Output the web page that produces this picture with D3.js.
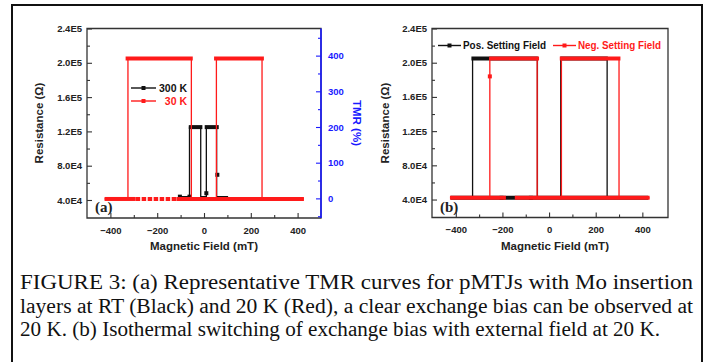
<!DOCTYPE html>
<html>
<head>
<meta charset="utf-8">
<script src="https://cdn.jsdelivr.net/npm/d3@7"></script>
<style>
  body { margin: 0; background: #fff; }
  svg { display: block; }
</style>
</head>
<body>
<div id="chart"></div>
<script>
// ---- tick values / labels ----
const resTicks = [40000, 80000, 120000, 160000, 200000, 240000]
const resTickLabels = ["4.0E4", "8.0E4", "1.2E5", "1.6E5", "2.0E5", "2.4E5"]
const fieldTicks = [-400, -200, 0, 200, 400]
const tmrTicks = [0, 100, 200, 300, 400]

// ---- panel (a) ----
// 300 K loop: path vertices [field mT, resistance ohm]
const rt300Path = [[-111, 43900], [-62, 43900], [-62, 125000], [-14, 125000], [-14, 43900],
  [10, 43900], [10, 125000], [54, 125000], [54, 43900], [103, 43900]]
// dense marker stretches [from, to, resistance]
const rt300Runs = [[-65, -7, 125000], [3, 63, 125000]]
const rt300Points = [[-103, 43900], [-62, 43900], [10, 47900], [57, 69400]]

// 30 K loop
const k30Path = [[-425, 41200], [-325, 41200], [-325, 205000], [-54, 205000], [-54, 41200],
  [53, 41200], [53, 205000], [248, 205000], [248, 41200], [427, 41200]]
const k30Runs = [[-335, -48, 205000], [43, 256, 205000], [-425, -292, 41200], [-118, 427, 41200]]
const k30DashRuns = [[-292, -118, 41200]]

// ---- panel (b) ----
const posPath = [[-422, 42000], [-328, 42000], [-328, 205000], [-50, 205000], [-50, 42000],
  [50, 42000], [50, 205000], [249, 205000], [249, 42000], [425, 42000]]
const posRuns = [[-333, -48, 205000], [48, 252, 205000], [-422, 425, 42000]]
const posPoints = [[-204, 42000], [-78, 42000]]

const negPath = [[-425, 42000], [-254, 42000], [-254, 205000], [-51, 205000], [-51, 42000],
  [53, 42000], [53, 205000], [300, 205000], [300, 42000], [431, 42000]]
const negRuns = [[-257, -43, 205000], [46, 306, 205000], [-425, -185, 42000], [-147, 431, 42000]]
const negPoints = [[-254, 184000]]

const caption = [
  "FIGURE 3: (a) Representative TMR curves for pMTJs with Mo insertion",
  "layers at RT (Black) and 20 K (Red), a clear exchange bias can be observed at",
  "20 K. (b) Isothermal switching of exchange bias with external field at 20 K."
]

const RED = "#ff1a1a"
const BLACK = "#111"
const BLUE = "#1a1aff"
const AXIS = "#333"

const svg = d3.select("#chart").append("svg")
  .attr("width", 713).attr("height", 362)
  .style("font-family", "'Liberation Sans', Arial, sans-serif")

svg.append("rect").attr("width", 713).attr("height", 362).attr("fill", "#fff")
// outer frame
svg.append("path")
  .attr("d", "M12,370 V5 H702 V370")
  .attr("fill", "none").attr("stroke", "#111").attr("stroke-width", 2)

function drawPanel(p) {
  const x = d3.scaleLinear().domain(p.xDomain).range([p.left, p.right])
  const y = d3.scaleLinear().domain([19000, 240000]).range([p.bottom, p.top])
  const g = svg.append("g")

  // series
  p.series.forEach(s => {
    const line = d3.line().x(d => x(d[0])).y(d => y(d[1]))
    g.append("path").attr("d", line(s.path))
      .attr("fill", "none").attr("stroke", s.color).attr("stroke-width", 1.3)
    g.selectAll(null).data(s.runs).join("line")
      .attr("x1", d => x(d[0])).attr("x2", d => x(d[1]))
      .attr("y1", d => y(d[2])).attr("y2", d => y(d[2]))
      .attr("stroke", s.color).attr("stroke-width", 4)
    g.selectAll(null).data(s.dashRuns || []).join("line")
      .attr("x1", d => x(d[0])).attr("x2", d => x(d[1]))
      .attr("y1", d => y(d[2])).attr("y2", d => y(d[2]))
      .attr("stroke", s.color).attr("stroke-width", 4).attr("stroke-dasharray", "4.5,1.5")
    g.selectAll(null).data(s.points || []).join("rect")
      .attr("x", d => x(d[0]) - 2).attr("y", d => y(d[1]) - 2)
      .attr("width", 4).attr("height", 4).attr("fill", s.color)
  })

  // frame
  g.append("path")
    .attr("d", `M${p.left},${p.top} H${p.right} V${p.bottom} H${p.left} Z`)
    .attr("fill", "none").attr("stroke", AXIS).attr("stroke-width", 1.3)

  // left axis
  const yAxis = d3.axisLeft(y).tickValues(resTicks)
    .tickFormat((d, i) => resTickLabels[i]).tickSize(-5).tickPadding(5)
  const ya = g.append("g").attr("transform", `translate(${p.left},0)`).call(yAxis)
  ya.select(".domain").remove()
  const yMinor = d3.axisLeft(y).tickValues([60000, 100000, 140000, 180000, 220000])
    .tickSize(-3).tickFormat("")
  const ym = g.append("g").attr("transform", `translate(${p.left},0)`).call(yMinor)
  ym.select(".domain").remove()

  // bottom axis
  const xAxis = d3.axisBottom(x).tickValues(fieldTicks).tickSize(-5).tickPadding(9)
  const xa = g.append("g").attr("transform", `translate(0,${p.bottom})`).call(xAxis)
  xa.select(".domain").remove()
  const xMinor = d3.axisBottom(x).tickValues([-300, -100, 100, 300]).tickSize(-3).tickFormat("")
  const xm = g.append("g").attr("transform", `translate(0,${p.bottom})`).call(xMinor)
  xm.select(".domain").remove()

  ;[ya, ym, xa, xm].forEach(a => {
    a.selectAll("line").attr("stroke", AXIS).attr("stroke-width", 1.1)
    a.selectAll("text").attr("fill", "#222").style("font-size", "9.5px")
      .style("font-weight", "bold").style("font-family", "'Liberation Sans', Arial, sans-serif")
  })

  // axis titles
  g.append("text")
    .attr("transform", `translate(${p.ytitleX},123) rotate(-90)`)
    .attr("text-anchor", "middle").attr("fill", "#222")
    .style("font-size", "11.5px").style("font-weight", "bold")
    .text("Resistance (\u03A9)")
  g.append("text")
    .attr("x", (p.left + p.right) / 2 + p.xtitleShift).attr("y", 250)
    .attr("text-anchor", "middle").attr("fill", "#222")
    .style("font-size", "11.5px").style("font-weight", "bold")
    .text("Magnetic Field (mT)")

  // panel tag
  g.append("text")
    .attr("x", p.left + 8).attr("y", 212)
    .attr("fill", "#222")
    .style("font-family", "'Liberation Serif', 'Times New Roman', serif")
    .style("font-size", "15px").style("font-weight", "bold")
    .text(p.tag)

  return { x, y, g }
}

// ---- panel (a) ----
drawPanel({
  left: 87, right: 321, top: 28.5, bottom: 218, xDomain: [-500, 500],
  ytitleX: 43, xtitleShift: 0, tag: "(a)",
  series: [
    { path: rt300Path, runs: rt300Runs, points: rt300Points, color: BLACK },
    { path: k30Path, runs: k30Runs, dashRuns: k30DashRuns, color: RED }
  ]
})

// TMR axis (blue, right side)
const tmr = d3.scaleLinear().domain([-55, 476]).range([218, 28.5])
const tAxis = d3.axisRight(tmr).tickValues(tmrTicks).tickSize(-5).tickPadding(7)
const ta = svg.append("g").attr("transform", "translate(321,0)").call(tAxis)
const tMinor = d3.axisRight(tmr).tickValues([-50, 50, 150, 250, 350, 450]).tickSize(-3).tickFormat("")
const tm = svg.append("g").attr("transform", "translate(321,0)").call(tMinor)
tm.select(".domain").remove()
ta.select(".domain").attr("stroke", BLUE).attr("stroke-width", 1.6)
  .attr("d", "M0,28.5V218")
;[ta, tm].forEach(a => {
  a.selectAll("line").attr("stroke", BLUE).attr("stroke-width", 1.1)
  a.selectAll("text").attr("fill", BLUE).style("font-size", "9.5px")
    .style("font-weight", "bold").style("font-family", "'Liberation Sans', Arial, sans-serif")
})
svg.append("text")
  .attr("transform", "translate(353,123) rotate(90)")
  .attr("text-anchor", "middle").attr("fill", BLUE)
  .style("font-size", "11.5px").style("font-weight", "bold")
  .text("TMR (%)")

// legend entries
function legendItem(x0, x1, yy, color, label, labelX, anchor, width) {
  svg.append("line").attr("x1", x0).attr("x2", x1).attr("y1", yy).attr("y2", yy)
    .attr("stroke", color).attr("stroke-width", 1.4)
  svg.append("rect").attr("x", (x0 + x1) / 2 - 2).attr("y", yy - 2)
    .attr("width", 4).attr("height", 4).attr("fill", color)
  const t = svg.append("text").attr("x", labelX).attr("y", yy + 3.5)
    .attr("text-anchor", anchor).attr("fill", color)
    .style("font-size", "10.5px").style("font-weight", "bold")
    .text(label)
  if (width) t.attr("textLength", width).attr("lengthAdjust", "spacingAndGlyphs")
}
legendItem(131, 156, 88, BLACK, "300 K", 187, "end")
legendItem(131, 156, 101, RED, "30 K", 187, "end")

// ---- panel (b) ----
drawPanel({
  left: 432, right: 668, top: 28.5, bottom: 217.5, xDomain: [-502, 510],
  ytitleX: 389, xtitleShift: 5, tag: "(b)",
  series: [
    { path: posPath, runs: posRuns, points: posPoints, color: BLACK },
    { path: negPath, runs: negRuns, points: negPoints, color: RED }
  ]
})
legendItem(438, 461, 45.5, BLACK, "Pos. Setting Field", 463, "start", 83)
legendItem(553, 576, 45.5, RED, "Neg. Setting Field", 578, "start", 83)

// ---- caption ----
const capY = [289, 312.5, 336]
const capW = [673, 673, 640]
svg.append("g").selectAll("text").data(caption).join("text")
  .attr("x", 20).attr("y", (d, i) => capY[i])
  .attr("textLength", (d, i) => capW[i])
  .attr("lengthAdjust", "spacingAndGlyphs")
  .attr("fill", "#111")
  .style("font-family", "'Liberation Serif', 'Times New Roman', serif")
  .style("font-size", "20.5px")
  .text(d => d)
</script>
</body>
</html>
